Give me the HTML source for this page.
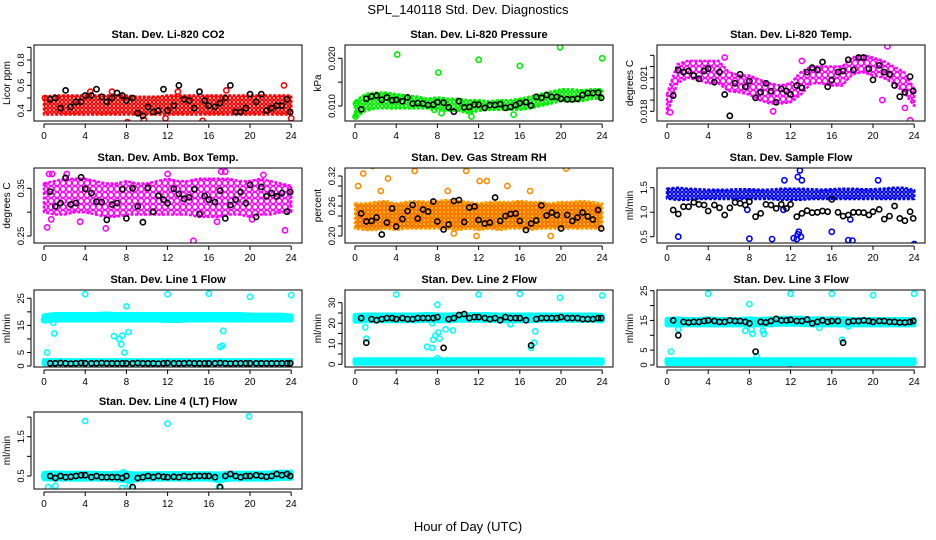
<!DOCTYPE html>
<html><head><meta charset="utf-8"><style>
html,body{margin:0;padding:0;background:#fff;}
svg{display:block;font-family:"Liberation Sans",sans-serif;}
</style></head><body>
<svg id="chart" width="936" height="540" viewBox="0 0 936 540">
<defs id="defs"></defs>
<text x="468" y="14" text-anchor="middle" font-size="13">SPL_140118  Std. Dev. Diagnostics</text>
<text x="468" y="531" text-anchor="middle" font-size="13">Hour of Day (UTC)</text>
</svg>
<script>
// ---- shared data ----
const bandHours = [0,1,2,3,4,5,6,7,8,9,10,11,12,13,14,15,16,17,18,19,20,21,22,23,24];
const blackX = [0.6,1.1,1.6,2.1,2.6,3.1,3.6,4.0,4.6,5.1,5.6,6.1,6.6,7.1,7.6,8.0,8.6,9.1,9.6,10.1,10.6,11.1,11.6,12.0,12.6,13.1,13.6,14.1,14.6,15.1,15.6,16.0,16.6,17.1,17.6,18.1,18.6,19.1,19.6,20.0,20.6,21.1,21.6,22.1,22.6,23.1,23.6,23.9];
const xTicks = [0,4,8,12,16,20,24];

// CO2
const co2BandLow = [0.37,0.37,0.37,0.37,0.37,0.37,0.37,0.37,0.37,0.37,0.37,0.37,0.37,0.37,0.37,0.37,0.37,0.37,0.37,0.37,0.37,0.37,0.37,0.37,0.37];
const co2BandHigh = [0.51,0.52,0.52,0.52,0.52,0.52,0.52,0.52,0.52,0.51,0.51,0.51,0.52,0.52,0.52,0.52,0.52,0.52,0.52,0.52,0.52,0.52,0.52,0.52,0.52];
const co2OutX = [8.9,8.1,15.4,23.3,24,13,17.7,6.6,4.5,9.7,11.8,0.1];
const co2OutY = [0.98,0.31,0.32,0.6,0.34,0.55,0.56,0.55,0.55,0.33,0.34,0.5];
const co2Black = [0.49,0.5,0.42,0.56,0.43,0.47,0.47,0.52,0.52,0.57,0.51,0.47,0.5,0.54,0.52,0.48,0.5,0.38,0.36,0.43,0.39,0.4,0.57,0.4,0.44,0.6,0.49,0.48,0.42,0.55,0.48,0.44,0.43,0.46,0.5,0.6,0.39,0.39,0.42,0.53,0.47,0.53,0.4,0.42,0.44,0.44,0.49,0.39];

// Pressure
const presBandLow = [0.0075,0.009,0.0095,0.0095,0.0095,0.0095,0.0095,0.0095,0.0092,0.009,0.009,0.0085,0.009,0.0092,0.0092,0.0092,0.0092,0.0095,0.01,0.0105,0.011,0.011,0.011,0.0115,0.0115];
const presBandHigh = [0.011,0.0125,0.0128,0.0128,0.0125,0.0122,0.012,0.0115,0.0118,0.0115,0.0115,0.0112,0.0112,0.011,0.0112,0.0112,0.0115,0.012,0.0125,0.013,0.0135,0.0135,0.0133,0.0135,0.0135];
const presOutX = [4.1,8.1,12,16,19.9,24,0.1,0.05,7.7,15.4,8.4,11.3];
const presOutY = [0.0208,0.017,0.0197,0.0184,0.0223,0.02,0.0105,0.0078,0.0092,0.0082,0.0085,0.0078];
const presBlack = [0.0093,0.0115,0.012,0.0122,0.0113,0.0118,0.0112,0.0113,0.011,0.0118,0.0105,0.0106,0.0105,0.0102,0.0103,0.0108,0.0107,0.0097,0.0088,0.011,0.0097,0.0098,0.0103,0.0103,0.0096,0.0102,0.0102,0.0104,0.0096,0.0098,0.0102,0.0106,0.0108,0.0101,0.0119,0.0117,0.0123,0.0119,0.0119,0.0115,0.0114,0.0114,0.0115,0.0123,0.0127,0.0127,0.0128,0.0117];

// Li-820 Temp
const tempBandLow = [0.0178,0.0205,0.021,0.0208,0.0205,0.0205,0.0198,0.0197,0.0195,0.019,0.0187,0.0187,0.0188,0.0195,0.0205,0.0205,0.0203,0.0203,0.0213,0.0215,0.0212,0.021,0.0205,0.0197,0.0185];
const tempBandHigh = [0.0195,0.0222,0.0225,0.0225,0.0225,0.0225,0.0215,0.0212,0.0212,0.0208,0.0205,0.0203,0.0205,0.0215,0.022,0.022,0.022,0.022,0.0228,0.023,0.0228,0.0225,0.022,0.0215,0.02];
const tempOutX = [0.3,23.6,21.4,5.6,13.1,10.3,20.9,23.1];
const tempOutY = [0.0179,0.0172,0.0238,0.0228,0.0225,0.018,0.019,0.0183];
const tempBlack = [0.0194,0.0217,0.0215,0.0216,0.0212,0.0209,0.0216,0.0218,0.0206,0.0215,0.0195,0.0176,0.0205,0.0213,0.0202,0.0207,0.0192,0.0197,0.0205,0.0198,0.0188,0.02,0.0198,0.0195,0.0203,0.0201,0.0215,0.0219,0.0217,0.0224,0.0202,0.0208,0.0215,0.0216,0.0226,0.0217,0.0228,0.0228,0.0218,0.0208,0.0221,0.0215,0.0213,0.0203,0.0193,0.0197,0.0211,0.0198];

// Amb box temp
const ambBandLow = [0.3,0.295,0.295,0.3,0.3,0.295,0.29,0.29,0.295,0.295,0.295,0.295,0.295,0.295,0.295,0.29,0.29,0.29,0.295,0.295,0.29,0.295,0.295,0.3,0.3];
const ambBandHigh = [0.36,0.365,0.37,0.37,0.37,0.365,0.36,0.36,0.365,0.36,0.36,0.365,0.37,0.365,0.365,0.37,0.37,0.37,0.37,0.365,0.365,0.37,0.365,0.36,0.355];
const ambOutX = [0.3,0.5,0.8,2.2,3.5,6,14.5,16.8,17.2,17.6,20.2,23.4,0.7,12,21.3];
const ambOutY = [0.268,0.38,0.38,0.38,0.28,0.266,0.24,0.28,0.385,0.385,0.285,0.262,0.285,0.38,0.378];
const ambBlack = [0.343,0.312,0.319,0.372,0.316,0.319,0.373,0.349,0.34,0.322,0.321,0.284,0.316,0.319,0.348,0.287,0.35,0.312,0.279,0.351,0.301,0.334,0.326,0.319,0.349,0.338,0.328,0.331,0.348,0.296,0.334,0.326,0.321,0.345,0.287,0.315,0.326,0.342,0.319,0.357,0.29,0.353,0.333,0.34,0.333,0.34,0.301,0.342];

// Gas stream RH
const rhBandLow = [0.215,0.212,0.212,0.215,0.212,0.215,0.215,0.215,0.215,0.215,0.212,0.215,0.212,0.215,0.212,0.215,0.215,0.212,0.215,0.215,0.215,0.215,0.215,0.215,0.215];
const rhBandHigh = [0.265,0.265,0.268,0.27,0.265,0.268,0.27,0.268,0.27,0.272,0.27,0.268,0.265,0.268,0.268,0.268,0.27,0.268,0.268,0.265,0.268,0.268,0.27,0.268,0.265];
const rhOutX = [0.3,0.8,1.7,3.2,5.8,10.8,20.5,12.1,12.8,9,11.8,19,9.6,17,2.5,14.8];
const rhOutY = [0.3,0.325,0.34,0.315,0.33,0.33,0.335,0.31,0.31,0.29,0.2,0.2,0.205,0.29,0.29,0.3];
const rhBlack = [0.245,0.229,0.23,0.237,0.203,0.227,0.255,0.219,0.234,0.25,0.262,0.235,0.253,0.249,0.269,0.229,0.213,0.223,0.27,0.272,0.228,0.257,0.259,0.232,0.225,0.227,0.277,0.23,0.24,0.244,0.245,0.23,0.212,0.225,0.231,0.261,0.241,0.247,0.242,0.215,0.242,0.23,0.237,0.247,0.239,0.233,0.252,0.215];

// Sample flow
const sfBandLow = [1.28,1.25,1.25,1.27,1.27,1.27,1.27,1.27,1.27,1.27,1.27,1.25,1.25,1.25,1.27,1.27,1.27,1.27,1.27,1.27,1.27,1.27,1.27,1.27,1.27];
const sfBandHigh = [1.48,1.5,1.48,1.47,1.46,1.46,1.46,1.47,1.47,1.46,1.46,1.48,1.48,1.48,1.47,1.46,1.47,1.48,1.48,1.47,1.47,1.48,1.5,1.5,1.45];
const sfOutX = [1.1,8,10.2,12.3,12.6,12.7,12.8,13,16,17.6,18,24,12.9,12.7,11.4,20.5,13.1,11.3,17.8,7.8];
const sfOutY = [0.5,0.46,0.45,0.47,0.45,0.55,0.6,0.5,0.6,0.43,0.42,0.35,1.85,1.72,1.65,1.65,1.65,1.05,0.85,1.05];
const sfBlack = [1.044,0.963,1.112,1.112,1.2,1.16,1.146,1.024,1.146,1.09,0.942,1.09,1.2,1.18,1.146,1.214,0.908,0.976,1.16,1.146,1.078,1.16,1.078,1.16,0.908,0.976,1.03,0.99,0.997,1.024,1.01,1.262,0.997,0.92,0.942,0.997,0.997,0.99,0.942,1.01,1.058,0.86,0.92,1.126,0.874,0.827,1.01,0.874];

// Line 1 flow
const l1BandLow = [16.5,17,17,17,17,17,17,17,17,17,17,17,16.8,16.8,17,17,17,17,17,17,17,17,17,17,17];
const l1BandHigh = [18.5,19,19,19,19,19,19.2,19,19,19,19,19,19,19,19,19,19,19,19,19,18.8,18.8,18.8,18.8,18.5];
const l1LowBandLow = [0.8,0.8,0.8,0.8,0.8,0.8,0.8,0.8,0.8,0.8,0.8,0.8,0.8,0.8,0.8,0.8,0.8,0.8,0.8,0.8,0.8,0.8,0.8,0.8,0.8];
const l1LowBandHigh = [2,2,2,2,2,2,2,2,2,2,2,2,2,2,2,2,2,2,2,2,2,2,2,2,2];
const l1OutX = [0.3,0.9,1,4,12,16,20,24,6.8,7.3,7.5,7.6,7.8,8,8.2,17.1,17.3,17.4,0,0.1];
const l1OutY = [5,16,12,26.5,26.5,26.7,25.5,26.2,11,10,8,11.2,5,22,12.5,7,7.5,13,17,1.5];
const l1Black = [1,1,1.1,1,0.9,1,1.1,1,1,1,1.1,1,1,1,1,1,1,1.1,1,1,1,0.9,1,1.1,1,1,1,1.1,1,1,1,1,1,1.1,1,0.9,1,1,1,1,1,1,1,1,1,1,1,1];

// Line 2 flow
const l2BandLow = [21,21.2,21.2,21.2,21.2,21.2,21.2,21.5,21.2,21.2,21.5,21.5,21.5,21.5,21.2,21.2,21.2,21.2,21.5,21.5,21.5,21.5,21.5,21.5,21.2];
const l2BandHigh = [23.8,24,24,24,24,24,24,24.3,24,24,24.2,24.2,24.2,24.2,24,24,24,24,24,24,24,24,24,24,23.8];
const l2LowBandLow = [0.5,0.5,0.5,0.5,0.5,0.5,0.5,0.5,0.5,0.5,0.5,0.5,0.5,0.5,0.5,0.5,0.5,0.5,0.5,0.5,0.5,0.5,0.5,0.5,0.5];
const l2LowBandHigh = [2.2,2.2,2.2,2.2,2.2,2.2,2.2,2.2,2.2,2.2,2.2,2.2,2.2,2.2,2.2,2.2,2.2,2.2,2.2,2.2,2.2,2.2,2.2,2.2,2.2];
const l2OutX = [4,12,16,19.9,24,1,1.1,7,7.5,7.6,7.8,8.1,8.2,8,8,8.8,9.5,15.1,17.1,17.4,17.5,7.5];
const l2OutY = [34,34,34.3,32.5,33.5,18,12.5,8.5,8,12,14,15.5,12.5,29,3,17,16.5,19.5,8,10.5,16,20];
const l2Black = [22.5,10.5,22,21.5,22,22.5,22.5,22,22.5,22,22,22.5,22.5,22.5,22.5,23,8,22,22.5,24,24.5,22.5,23,23,22.5,22,22.5,21.5,23,22.5,22.5,22.5,21.5,9.2,22,22.5,22.5,22.5,22.5,23,22.5,22.5,22.5,22,22,22,22.5,22.5];

// Line 3 flow
const l3BandLow = [13.5,13.5,13.5,13.5,13.5,13.5,13.5,13.5,13.5,13.5,13.5,13.7,13.7,13.7,13.5,13.5,13.5,13.5,13.5,13.5,13.5,13.5,13.5,13.5,13.5];
const l3BandHigh = [15.3,15.5,15.3,15.3,15.5,15.3,15.3,15.3,15.5,15.3,15.5,15.7,15.7,15.7,15.5,15.5,15.5,15.5,15.3,15.3,15.3,15.3,15.3,15.3,15.3];
const l3LowBandLow = [0.5,0.5,0.5,0.5,0.5,0.5,0.5,0.5,0.5,0.5,0.5,0.5,0.5,0.5,0.5,0.5,0.5,0.5,0.5,0.5,0.5,0.5,0.5,0.5,0.5];
const l3LowBandHigh = [1.8,1.8,1.8,1.8,1.8,1.8,1.8,1.8,1.8,1.8,1.8,1.8,1.8,1.8,1.8,1.8,1.8,1.8,1.8,1.8,1.8,1.8,1.8,1.8,1.8];
const l3OutX = [0.4,4,12,16,20,24,8,7.6,8.2,8.3,9.3,9.4,14.8,17,17.6,1.1,8.7,12];
const l3OutY = [4.5,24,24,24,23.5,24,20.5,11.5,12,10.5,11.5,10.5,12.5,8.5,13,12,3,0.5];
const l3Black = [15,10,14.5,14.3,14.5,14.5,14.8,15,14.8,14.5,14.5,15,14.8,14.8,14.5,14,4.5,14.5,14.3,14.8,15.5,15,15,15.2,14.8,14.8,15.3,14,14.5,15,14.5,14.8,14.8,7.5,14.5,14.8,14.8,15,14.8,14.5,14.8,14.8,14.5,14.5,14.3,14.3,14.5,14.8];

// Line 4 flow
const l4BandLow = [0.43,0.42,0.42,0.42,0.42,0.42,0.42,0.4,0.38,0.4,0.42,0.42,0.42,0.42,0.42,0.42,0.42,0.38,0.42,0.42,0.42,0.42,0.42,0.44,0.44];
const l4BandHigh = [0.57,0.58,0.57,0.57,0.57,0.57,0.56,0.57,0.57,0.55,0.56,0.56,0.56,0.56,0.56,0.56,0.56,0.55,0.57,0.57,0.57,0.57,0.58,0.6,0.6];
const l4OutX = [0.4,1.1,4,12,19.9,7.7,7.6,8.3,17.1,17,0];
const l4OutY = [0.22,0.25,1.9,1.83,2.02,0.6,0.2,0.25,0.2,0.23,0.5];
const l4Black = [0.5,0.45,0.5,0.47,0.48,0.5,0.52,0.52,0.47,0.5,0.47,0.47,0.47,0.47,0.45,0.5,0.22,0.45,0.47,0.5,0.47,0.5,0.48,0.47,0.48,0.47,0.5,0.48,0.5,0.5,0.5,0.5,0.47,0.22,0.5,0.55,0.5,0.47,0.5,0.5,0.52,0.5,0.48,0.5,0.55,0.52,0.55,0.5];

const yTicksCO2 = [0.4,0.5,0.6,0.7,0.8,0.9]; const yLabCO2 = ["0.4","0.6","0.8"];
const yTicksPres = [0.010,0.015,0.020]; const yLabPres = ["0.010","0.020"];
const yTicksTemp = [0.018,0.019,0.020,0.021,0.022,0.023]; const yLabTemp = ["0.018","0.021"];
const yTicksAmb = [0.25,0.30,0.35]; const yLabAmb = ["0.25","0.35"];
const yTicksRH = [0.20,0.22,0.24,0.26,0.28,0.30,0.32]; const yLabRH = ["0.20","0.26","0.32"];
const yTicksSF = [0.5,1.0,1.5]; const yLabSF = ["0.5","1.0","1.5"];
const yTicksL1 = [0,5,10,15,20,25]; const yLabL1 = ["0","5","15","25"];
const yTicksL2 = [0,5,10,15,20,25,30]; const yLabL2 = ["0","10","20","30"];
const yTicksL3 = [0,5,10,15,20,25]; const yLabL3 = ["0","5","15","25"];
const yTicksL4 = [0.5,1.0,1.5,2.0]; const yLabL4 = ["0.5","1.5"];

const NS = "http://www.w3.org/2000/svg";
const svg = document.getElementById('chart');
const defs = document.getElementById('defs');
function mk(tag, attrs, parent){ const e=document.createElementNS(NS,tag); for(const k in attrs) e.setAttribute(k,attrs[k]); (parent||svg).appendChild(e); return e; }

const panels = [
 {id:'co2',title:'Stan. Dev. Li-820 CO2',ylab:'Licor ppm',L:34,T:45,B:121,a:[0.4,110.7],b:[0.8,60],col:'#ff0000',tex:'dense',bands:[[co2BandLow,co2BandHigh]],ox:co2OutX,oy:co2OutY,bk:co2Black,ticks:yTicksCO2,labs:yLabCO2},
 {id:'pressure',title:'Stan. Dev. Li-820 Pressure',ylab:'kPa',L:345,T:45,B:121,a:[0.010,106],b:[0.020,58.3],col:'#00ee00',tex:'dense',bands:[[presBandLow,presBandHigh]],ox:presOutX,oy:presOutY,bk:presBlack,ticks:yTicksPres,labs:yLabPres},
 {id:'li820-temp',title:'Stan. Dev. Li-820 Temp.',ylab:'degrees C',L:657,T:45,B:121,a:[0.018,111.3],b:[0.021,77.7],col:'#ff00ff',tex:'sparse',bands:[[tempBandLow,tempBandHigh]],ox:tempOutX,oy:tempOutY,bk:tempBlack,ticks:yTicksTemp,labs:yLabTemp},
 {id:'amb-box-temp',title:'Stan. Dev. Amb. Box Temp.',ylab:'degrees C',L:34,T:168,B:243,a:[0.35,188.3],b:[0.25,236],col:'#ff00ff',tex:'sparse',bands:[[ambBandLow,ambBandHigh]],ox:ambOutX,oy:ambOutY,bk:ambBlack,ticks:yTicksAmb,labs:yLabAmb},
 {id:'gas-rh',title:'Stan. Dev. Gas Stream RH',ylab:'percent',L:345,T:168,B:243,a:[0.20,236],b:[0.32,176],col:'#ffa500',tex:'rh',bands:[[rhBandLow,rhBandHigh]],ox:rhOutX,oy:rhOutY,bk:rhBlack,ticks:yTicksRH,labs:yLabRH},
 {id:'sample-flow',title:'Stan. Dev. Sample Flow',ylab:'ml/min',L:657,T:168,B:243,a:[1.5,187.7],b:[0.5,236.7],col:'#0000ff',tex:'dense',bands:[[sfBandLow,sfBandHigh]],ox:sfOutX,oy:sfOutY,bk:sfBlack,ticks:yTicksSF,labs:yLabSF},
 {id:'line1-flow',title:'Stan. Dev. Line 1 Flow',ylab:'ml/min',L:34,T:290,B:367,a:[0,366],b:[25,298.3],col:'#00ffff',tex:'solid',bands:[[l1BandLow,l1BandHigh],[l1LowBandLow,l1LowBandHigh]],ox:l1OutX,oy:l1OutY,bk:l1Black,ticks:yTicksL1,labs:yLabL1},
 {id:'line2-flow',title:'Stan. Dev. Line 2 Flow',ylab:'ml/min',L:345,T:290,B:367,a:[0,364.3],b:[30,302.7],col:'#00ffff',tex:'solid',bands:[[l2BandLow,l2BandHigh],[l2LowBandLow,l2LowBandHigh]],ox:l2OutX,oy:l2OutY,bk:l2Black,ticks:yTicksL2,labs:yLabL2},
 {id:'line3-flow',title:'Stan. Dev. Line 3 Flow',ylab:'ml/min',L:657,T:290,B:367,a:[0,365],b:[25,290.7],col:'#00ffff',tex:'solid',bands:[[l3BandLow,l3BandHigh],[l3LowBandLow,l3LowBandHigh]],ox:l3OutX,oy:l3OutY,bk:l3Black,ticks:yTicksL3,labs:yLabL3},
 {id:'line4-flow',title:'Stan. Dev. Line 4 (LT) Flow',ylab:'ml/min',L:34,T:412,B:489,a:[0.5,476],b:[1.5,436.7],col:'#00ffff',tex:'solid',bands:[[l4BandLow,l4BandHigh]],ox:l4OutX,oy:l4OutY,bk:l4Black,ticks:yTicksL4,labs:yLabL4}
];

function makePattern(p){
  if(p.tex==='solid') return p.col;
  const id='pat-'+p.id;
  const sz = p.tex==='sparse'?6:4;
  const pat=mk('pattern',{id:id,width:sz,height:sz,patternUnits:'userSpaceOnUse'},defs);
  if(p.tex==='rh'){
    mk('rect',{width:sz,height:sz,fill:'#ffd000'},pat);
    mk('circle',{cx:sz/2,cy:sz/2,r:1.3,fill:'none',stroke:'#ff3000','stroke-width':0.9},pat);
  } else {
    mk('circle',{cx:sz/2,cy:sz/2,r:sz/2-0.4,fill:'none',stroke:p.col,'stroke-width':p.tex==='sparse'?1.4:1.5},pat);
  }
  return 'url(#'+id+')';
}

panels.forEach(p=>{
  const W=268;
  const xs = h => p.L + 10 + h*10.3;
  const ys = v => p.a[1] + (v-p.a[0])*(p.b[1]-p.a[1])/(p.b[0]-p.a[0]);
  const g = mk('g',{});
  
  
  const clipId='clip-'+p.id;
  const cp=mk('clipPath',{id:clipId},g); mk('rect',{x:p.L,y:p.T,width:W,height:p.B-p.T},cp);
  const plot=mk('g',{'clip-path':'url(#'+clipId+')'},g);
  const fill = makePattern(p);
  p.bands.forEach((bd,bi)=>{
    let d='';
    bandHours.forEach((h,i)=>{ d+=(i?'L':'M')+xs(h).toFixed(1)+','+ys(bd[1][i]).toFixed(1); });
    for(let i=bandHours.length-1;i>=0;i--) d+='L'+xs(bandHours[i]).toFixed(1)+','+ys(bd[0][i]).toFixed(1);
    const stroke = p.tex==='rh' ? '#ff9a00' : p.col;
    const band=mk('path',{d:d+'Z',fill:fill,stroke:stroke,'stroke-width':p.tex==='solid'?5:2.5,'stroke-linejoin':'round','stroke-dasharray':p.tex==='solid'?'none':'3 1.5'},plot);
    
    
  });
  p.ox.forEach((x,i)=>{
    const c=mk('circle',{cx:xs(x).toFixed(1),cy:ys(p.oy[i]).toFixed(1),r:2.6,fill:'none',stroke:p.id==='gas-rh'?'#ff8c00':p.col,'stroke-width':1.6},plot);
    
    
  });
  blackX.forEach((x,i)=>{
    const c=mk('circle',{cx:xs(x).toFixed(1),cy:ys(p.bk[i]).toFixed(1),r:2.6,fill:'none',stroke:'#000','stroke-width':1.6},plot);
    
    
  });
  const box=mk('rect',{x:p.L,y:p.T,width:W,height:p.B-p.T,fill:'none',stroke:'#000','stroke-width':1},g);
  
  
  const t=mk('text',{x:p.L+W/2,y:p.T-7,'text-anchor':'middle','font-size':11,'font-weight':'bold'},g); t.textContent=p.title;
  
  
  const ax=mk('g',{stroke:'#000','stroke-width':1},g);
  mk('line',{x1:xs(0),x2:xs(24),y1:p.B+3,y2:p.B+3},ax);
  xTicks.forEach(h=>{
    mk('line',{x1:xs(h),x2:xs(h),y1:p.B+3,y2:p.B+7},ax);
    const tl=mk('text',{x:xs(h),y:p.B+18,'text-anchor':'middle','font-size':10},g); tl.textContent=h;
    
    
  });
  const ay=mk('g',{stroke:'#000','stroke-width':1},g);
  const t0=p.ticks[0], t1=p.ticks[p.ticks.length-1];
  mk('line',{x1:p.L-3,x2:p.L-3,y1:ys(t0),y2:ys(t1)},ay);
  p.ticks.forEach(v=>{ mk('line',{x1:p.L-7,x2:p.L-3,y1:ys(v),y2:ys(v)},ay); });
  p.labs.forEach(s=>{
    const y=ys(parseFloat(s)), x=p.L-10;
    const tl=mk('text',{x:x,y:y,'text-anchor':'middle','font-size':9.5,transform:'rotate(-90 '+x+' '+y+')'},g); tl.textContent=s;
    
    
  });
  const yc=(p.T+p.B)/2, yx=p.L-24;
  const yl=mk('text',{x:yx,y:yc,'text-anchor':'middle','font-size':10,transform:'rotate(-90 '+yx+' '+yc+')'},g); yl.textContent=p.ylab;
  
  
});
</script>
</body></html>
